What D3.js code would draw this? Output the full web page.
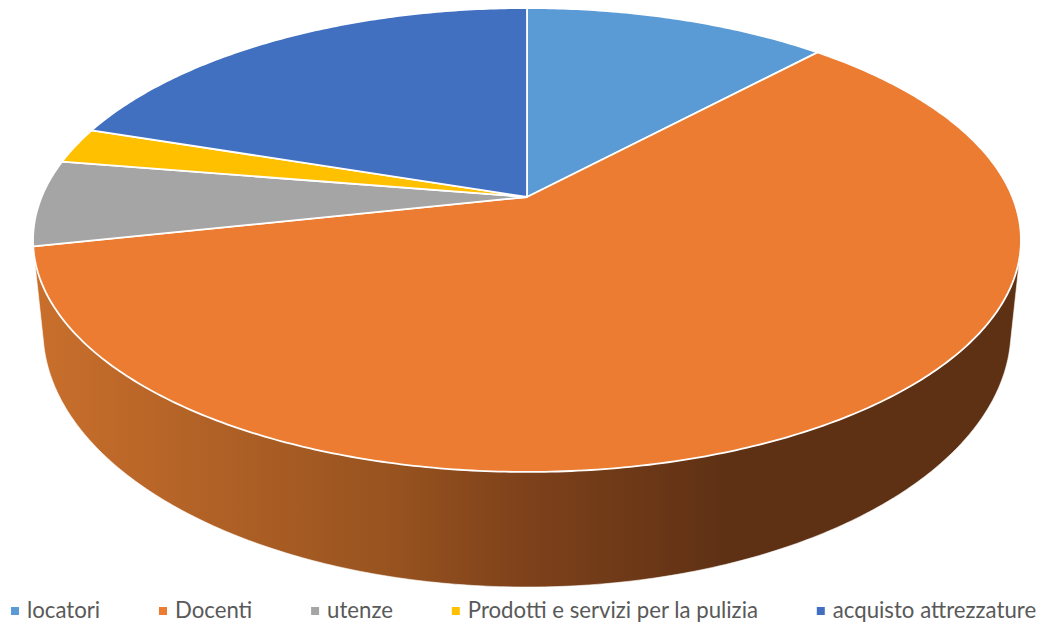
<!DOCTYPE html>
<html><head><meta charset="utf-8">
<script src="https://cdn.jsdelivr.net/npm/d3@7"></script>
<style>html,body{margin:0;padding:0;background:#fff}svg{display:block}</style>
</head><body><svg id="c" width="1047" height="627"></svg>
<script>
const categories = ["locatori","Docenti","utenze","Prodotti e servizi per la pulizia","acquisto attrezzature"];
const seriesValues = [11.9,59.7,6.0,2.5,19.9];
const sliceColors = ["#5B9BD5","#EB7C31","#A5A5A5","#FFC000","#4270C0"];

const svg = d3.select("#c");
const persp = 0.1853;
const topDisc = {cx:527, cy:197, a:485.4, b:224};
const baseDisc = {cx:527, cy:282.4, a:475.6, b:248.2};
const project = (t,d) => {
  const X=Math.sin(t), Y=Math.cos(t), w=1+persp*Y;
  return [d.cx+d.a*X/w, d.cy-d.b*Y/w];
};
const arcs = d3.pie().sort(null).value(d=>d)(seriesValues);
const samples = a => {
  const n = Math.max(4,Math.ceil((a.endAngle-a.startAngle)*90));
  return d3.range(n+1).map(i=>a.startAngle+(a.endAngle-a.startAngle)*i/n);
};
const defs = svg.append("defs");
const grad = defs.append("linearGradient").attr("id","side").attr("gradientUnits","userSpaceOnUse")
  .attr("x1",36).attr("x2",725).attr("y1",0).attr("y2",0);
[[0,"#c96f2c"],[0.53,"#96521f"],[0.70,"#7f421b"],[1,"#5f3114"]].forEach(s=>
  grad.append("stop").attr("offset",s[0]).attr("stop-color",s[1]));

// side wall of the only slice that reaches the front of the pie
const front = arcs[1];
const hull = d3.polygonHull(samples(front).flatMap(t=>[project(t,topDisc),project(t,baseDisc)]));
svg.append("path").attr("d","M"+hull.join("L")+"Z").attr("fill","url(#side)")
  .attr("stroke","#fff").attr("stroke-width",0.6);

// top surface
const line = d3.line();
svg.append("g").selectAll("path").data(arcs).join("path")
  .attr("d",a=>line([[topDisc.cx,topDisc.cy],...samples(a).map(t=>project(t,topDisc))])+"Z")
  .attr("fill",(a,i)=>sliceColors[i])
  .attr("stroke","#fff").attr("stroke-width",1.8).attr("stroke-linejoin","round");

// legend
let x = 11;
const legend = svg.append("g").attr("font-family","Lato").attr("font-size",22.2).attr("fill","#595959");
categories.forEach((c,i)=>{
  legend.append("rect").attr("x",x).attr("y",607).attr("width",8).attr("height",8).attr("fill",sliceColors[i]);
  const t = legend.append("text").attr("x",x+16).attr("y",618).text(c);
  x += 16 + t.node().getComputedTextLength() + 58.8;
});
</script></body></html>
